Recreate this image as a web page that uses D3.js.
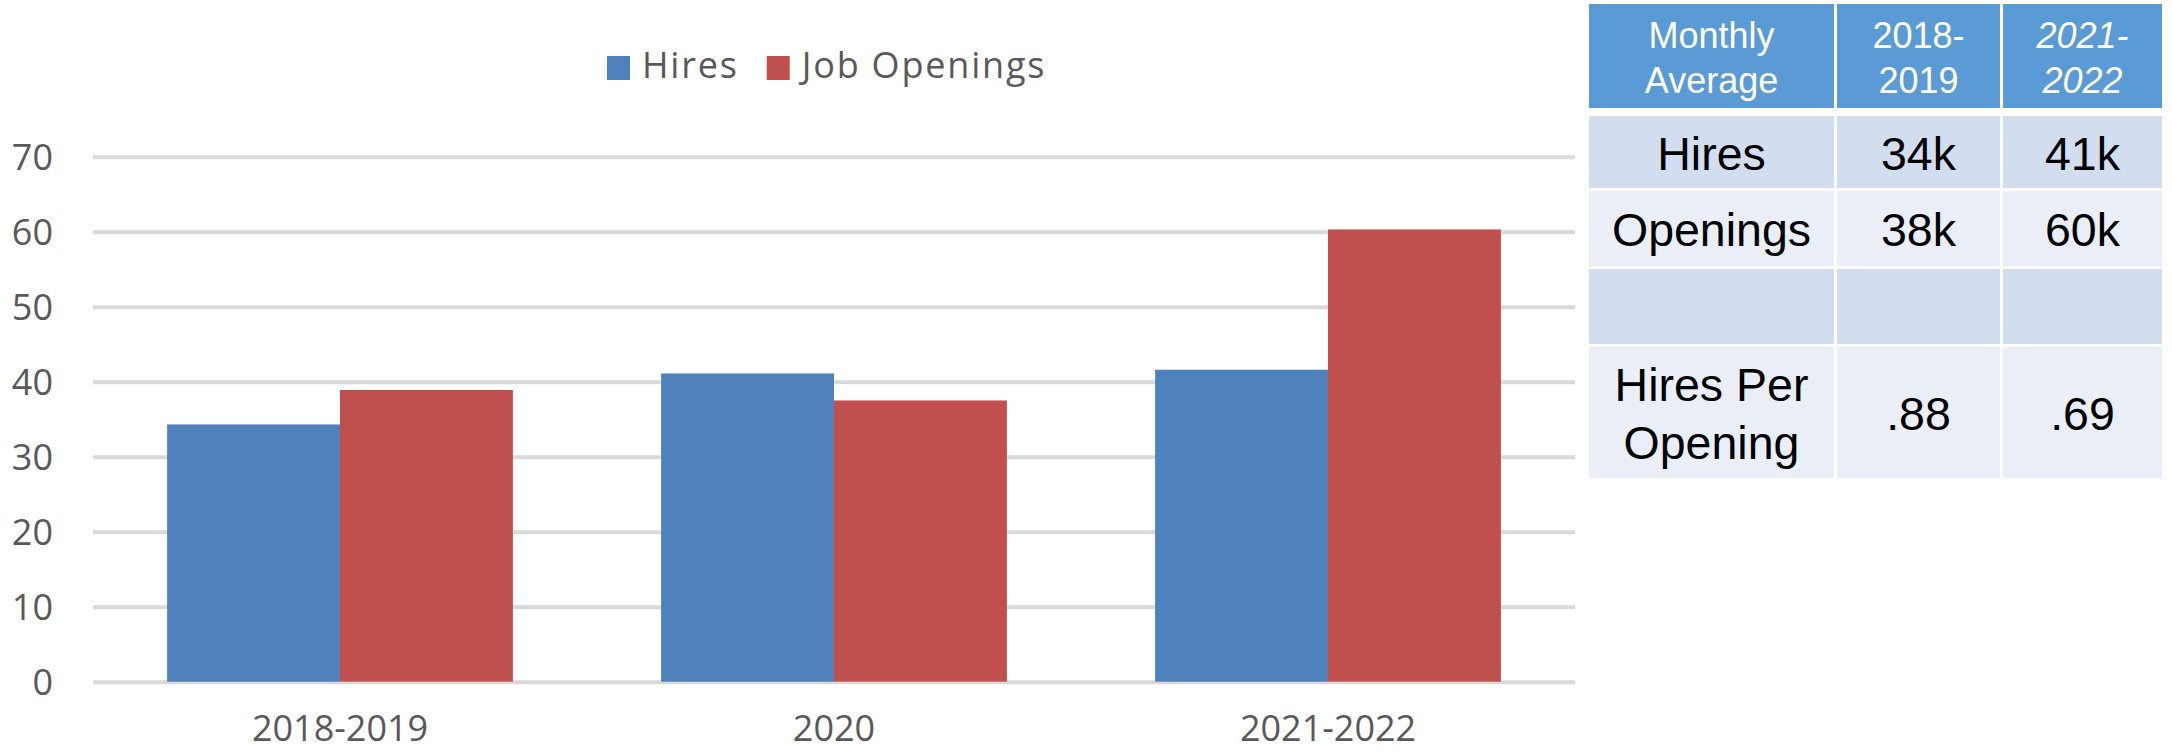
<!DOCTYPE html>
<html>
<head>
<meta charset="utf-8">
<script src="https://cdn.jsdelivr.net/npm/d3@7"></script>
<style>
  body { margin: 0; background: #fff; }
  svg { display: block; }
</style>
</head>
<body>
<div id="chart"></div>
<script>
const WIDTH = 2172;
const HEIGHT = 753;
const COLORS = ["#4f81bd", "#c0504d"];

// chart data
const categories = ["2018-2019", "2020", "2021-2022"];
const seriesNames = ["Hires", "Job Openings"];
const hires = [34.3, 41.1, 41.6];
const openings = [38.9, 37.5, 60.3];
const yTicks = [0, 10, 20, 30, 40, 50, 60, 70];

// table data (each cell is a list of lines)
const tableHeader = [["Monthly", "Average"], ["2018-", "2019"], ["2021-", "2022"]];
const rowLabels = [["Hires"], ["Openings"], [""], ["Hires Per", "Opening"]];
const col2018 = [["34k"], ["38k"], [""], [".88"]];
const col2021 = [["41k"], ["60k"], [""], [".69"]];

const svg = d3.select("#chart")
    .append("svg")
    .attr("width", WIDTH)
    .attr("height", HEIGHT);

// ---- bar chart ----
const plotLeft = 93, plotRight = 1575, plotTop = 156.7, plotBottom = 681.7;

const x = d3.scaleBand()
    .domain(categories)
    .range([plotLeft, plotRight])
    .paddingInner(0.3)
    .paddingOuter(0.15);

const xSub = d3.scaleBand()
    .domain(seriesNames)
    .range([0, x.bandwidth()]);

const y = d3.scaleLinear()
    .domain([0, 70])
    .range([plotBottom, plotTop]);

const color = d3.scaleOrdinal().domain(seriesNames).range(COLORS);

const yAxis = svg.append("g")
    .attr("transform", "translate(" + plotLeft + ",0)")
    .call(d3.axisLeft(y).tickValues(yTicks).tickSize(-(plotRight - plotLeft)).tickPadding(40));
yAxis.select(".domain").remove();
yAxis.selectAll(".tick line").attr("stroke", "#d9d9d9").attr("stroke-width", 4);
yAxis.selectAll(".tick text")
    .attr("fill", "#595959")
    .attr("font-family", "'Open Sans', sans-serif")
    .attr("font-size", 36)
    .attr("dy", "0.36em");

const xAxis = svg.append("g")
    .attr("transform", "translate(0," + plotBottom + ")")
    .call(d3.axisBottom(x).tickSize(0).tickPadding(34));
xAxis.select(".domain").remove();
xAxis.selectAll(".tick text")
    .attr("fill", "#595959")
    .attr("font-family", "'Open Sans', sans-serif")
    .attr("font-size", 36);

const rows = categories.map(function (c, i) {
    return { category: c, values: [hires[i], openings[i]] };
});

const groups = svg.selectAll(".group")
    .data(rows)
    .enter()
    .append("g")
    .attr("transform", function (d) { return "translate(" + x(d.category) + ",0)"; });

groups.selectAll("rect")
    .data(function (d) {
        return seriesNames.map(function (s, j) { return { series: s, value: d.values[j] }; });
    })
    .enter()
    .append("rect")
    .attr("x", function (d) { return xSub(d.series); })
    .attr("width", xSub.bandwidth())
    .attr("y", function (d) { return y(d.value); })
    .attr("height", function (d) { return y(0) - y(d.value); })
    .attr("fill", function (d) { return color(d.series); });

// legend
const legend = svg.append("g");
let lx = 607;
seriesNames.forEach(function (s) {
    legend.append("rect")
        .attr("x", lx).attr("y", 56)
        .attr("width", 23).attr("height", 24)
        .attr("fill", color(s));
    const t = legend.append("text")
        .attr("x", lx + 35).attr("y", 77.5)
        .attr("fill", "#595959")
        .attr("font-family", "'Open Sans', sans-serif")
        .attr("font-size", 36)
        .attr("letter-spacing", 1.8)
        .text(s);
    lx += 35 + t.node().getComputedTextLength() + 28;
});

// ---- table ----
const colX = [1589, 1837, 2003];
const colW = [245, 163, 159];
const rowY = [4, 116, 191, 269, 347];
const rowH = [104, 72, 75, 75, 131];
const rowFill = ["#5b9bd5", "#d2deef", "#eaeff7", "#d2deef", "#eaeff7"];

const tableRows = [tableHeader].concat(rowLabels.map(function (l, i) {
    return [l, col2018[i], col2021[i]];
}));

const table = svg.append("g");
tableRows.forEach(function (cells, r) {
    cells.forEach(function (lines, c) {
        table.append("rect")
            .attr("x", colX[c]).attr("y", rowY[r])
            .attr("width", colW[c]).attr("height", rowH[r])
            .attr("fill", rowFill[r]);

        const isHeader = r === 0;
        const fs = isHeader ? 36 : 46.5;
        const lh = isHeader ? 45 : 58;
        const cap = fs * 0.716;
        const cy = rowY[r] + rowH[r] / 2;
        const first = cy - (lines.length - 1) * lh / 2 + cap / 2 + (isHeader ? 2 : 1);

        const t = table.append("text")
            .attr("text-anchor", "middle")
            .attr("font-family", "'Liberation Sans', Arial, sans-serif")
            .attr("font-size", fs)
            .attr("fill", isHeader ? "#ffffff" : "#000000")
            .attr("font-style", isHeader && c === 2 ? "italic" : "normal");
        lines.forEach(function (line, k) {
            t.append("tspan")
                .attr("x", colX[c] + colW[c] / 2)
                .attr("y", first + k * lh)
                .text(line);
        });
    });
});
</script>
</body>
</html>
